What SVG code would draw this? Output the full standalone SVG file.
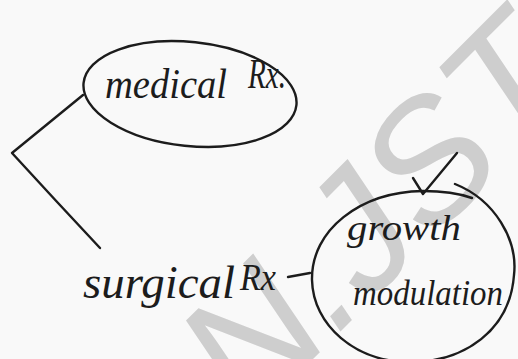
<svg xmlns="http://www.w3.org/2000/svg" width="518" height="359" viewBox="0 0 518 359">
<style>
.ink{fill:none;stroke:#1c1c1c;stroke-width:2.4;stroke-linecap:round;stroke-linejoin:round}
.hw{font-family:"Liberation Serif","DejaVu Serif",serif;font-style:italic;fill:#1c1c1c}
.wm{font-family:"Liberation Sans",Arial,sans-serif;font-style:italic;fill:#cecece}
</style>
<rect width="518" height="359" fill="#f9f9f9"/>
<g id="watermark">
<text class="wm" font-size="170" transform="translate(353,319) rotate(-45)" x="-147" y="0">N.JST</text>
</g>
<g id="connectors">
<path class="ink" d="M83,95 L12,153 Q55,200 100,248"/>
<path class="ink" d="M288,277 L310,273"/>
<path class="ink" d="M413,178 L423,194 L457,153"/>
</g>
<g id="medical">
<ellipse class="ink" cx="190" cy="94" rx="107" ry="52" transform="rotate(6 190 94)"/>
<text class="hw" x="105" y="98" font-size="42" textLength="122" lengthAdjust="spacingAndGlyphs">medical</text>
<text class="hw" x="248" y="88" font-size="42" textLength="38" lengthAdjust="spacingAndGlyphs">Rx.</text>
</g>
<g id="surgical">
<text class="hw" x="83" y="298" font-size="46" textLength="152" lengthAdjust="spacingAndGlyphs">surgical</text>
<text class="hw" x="240" y="290" font-size="38" textLength="36" lengthAdjust="spacingAndGlyphs">Rx</text>
</g>
<g id="growth">
<path class="ink" d="M455,184 C495,200 518,240 514,275 C510,330 465,362 410,362 C355,362 313,325 312,280 C311,230 360,192 423,191 C440,191 458,193 472,198"/>
<text class="hw" x="347" y="240" font-size="36" textLength="114" lengthAdjust="spacingAndGlyphs">growth</text>
<text class="hw" x="353" y="305" font-size="36" textLength="150" lengthAdjust="spacingAndGlyphs">modulation</text>
</g>
</svg>
